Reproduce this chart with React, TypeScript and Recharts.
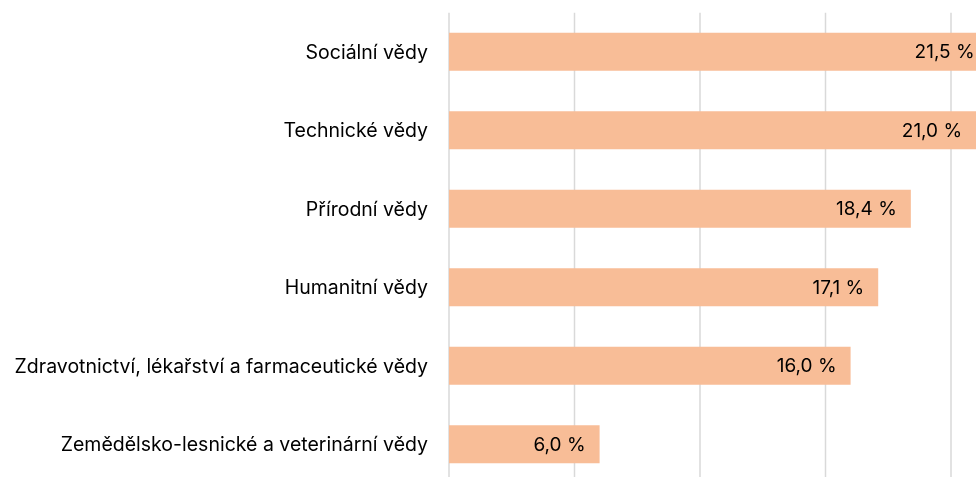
import { Bar, BarChart, CartesianGrid, LabelList, XAxis, YAxis } from "recharts";

const categories = [
  "Sociální vědy",
  "Technické vědy",
  "Přírodní vědy",
  "Humanitní vědy",
  "Zdravotnictví, lékařství a farmaceutické vědy",
  "Zemědělsko-lesnické a veterinární vědy",
];
const shares = [21.5, 21.0, 18.4, 17.1, 16.0, 6.0];
const xTicks = [0, 5, 10, 15, 20, 25];

const data = categories.map((name, i) => ({ name, value: shares[i] }));

const fmt = (v: any) => Number(v).toFixed(1).replace(".", ",") + " %";

export default function App() {
  return (
    <div style={{ position: "fixed", left: 0, top: 0, width: 976, height: 477, overflow: "hidden" }}>
      <BarChart
        width={1100}
        height={500}
        data={data}
        layout="vertical"
        margin={{ top: 12.75, right: 23.5, bottom: 16.25, left: 0 }}
        style={{ fontFamily: "Inter, sans-serif" }}
      >
        <CartesianGrid horizontal={false} stroke="#d9d9d9" strokeWidth={1.5} />
        <XAxis
          type="number"
          domain={[0, 25]}
          ticks={xTicks}
          tick={() => <g />}
          axisLine={false}
          tickLine={false}
          height={0}
        />
        <YAxis
          type="category"
          dataKey="name"
          width={449}
          axisLine={false}
          tickLine={false}
          tickSize={0}
          tickMargin={21}
          tick={{ fill: "#000", fontSize: 19.5 }}
        />
        <Bar dataKey="value" fill="#f8bd97" barSize={38} isAnimationActive={false}>
          <LabelList
            dataKey="value"
            position="insideRight"
            offset={14}
            formatter={fmt}
            fill="#000"
            fontSize={19}
          />
        </Bar>
      </BarChart>
    </div>
  );
}
